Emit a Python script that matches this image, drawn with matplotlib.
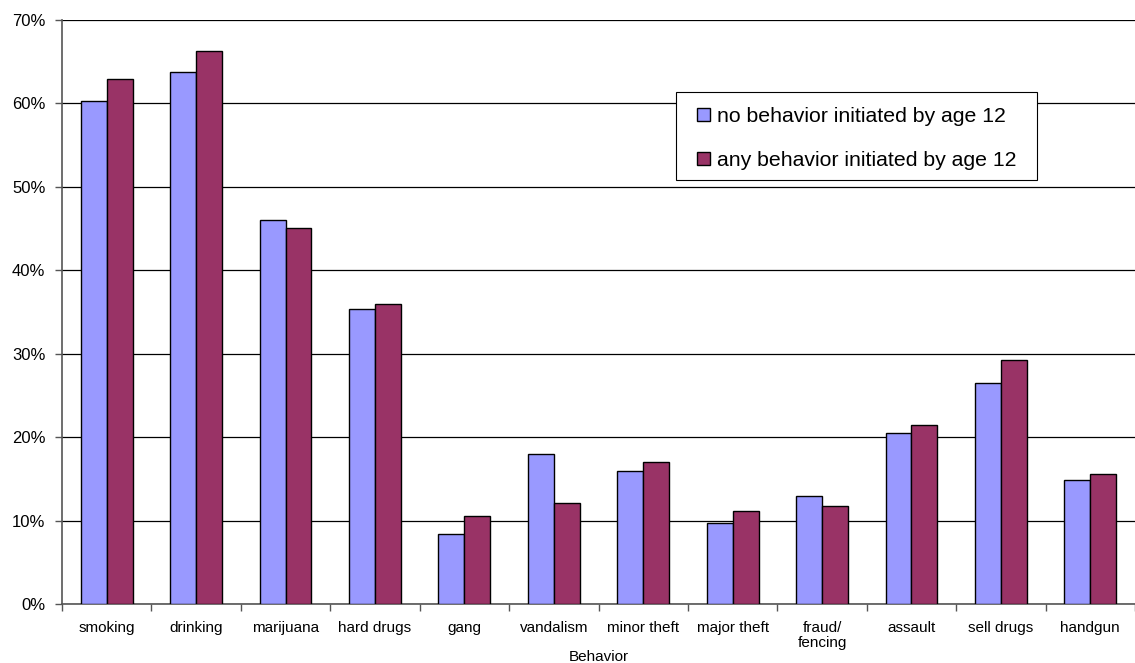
import matplotlib
matplotlib.use("Agg")
import matplotlib.pyplot as plt
import numpy as np
from matplotlib.ticker import FixedLocator, FuncFormatter
from matplotlib.patches import Rectangle

categories = ["smoking", "drinking", "marijuana", "hard drugs", "gang", "vandalism",
              "minor theft", "major theft", "fraud/\nfencing", "assault", "sell drugs", "handgun"]
no_behavior = [60.3, 63.8, 46.0, 35.4, 8.4, 18.0, 15.9, 9.7, 13.0, 20.5, 26.5, 14.9]
any_behavior = [62.9, 66.3, 45.1, 35.9, 10.6, 12.1, 17.0, 11.2, 11.7, 21.5, 29.2, 15.6]
series_labels = ["no behavior initiated by age 12", "any behavior initiated by age 12"]
y_ticks = [0, 10, 20, 30, 40, 50, 60, 70]

plt.rcParams['font.family'] = ['Liberation Sans', 'DejaVu Sans']

fig = plt.figure(figsize=(11.35, 6.63), dpi=100)
W, H = 1135, 663
ax = fig.add_axes([62 / W, (H - 604) / H, (1135 - 62) / W, (604 - 20) / H])

x = np.arange(len(categories))
bw = 0.29
ax.bar(x - bw / 2, no_behavior, bw, color="#9999FF", edgecolor="black", linewidth=1.0,
       label=series_labels[0], zorder=3)
ax.bar(x + bw / 2, any_behavior, bw, color="#993366", edgecolor="black", linewidth=1.0,
       label=series_labels[1], zorder=3)

ax.set_xlim(-0.5, len(categories) - 0.5)
ax.set_ylim(0, 70)
ax.yaxis.set_major_locator(FixedLocator(y_ticks))
ax.yaxis.set_major_formatter(FuncFormatter(lambda v, p: f"{int(v)}%"))
ax.yaxis.grid(True, color="black", linewidth=0.9, zorder=0)
ax.set_axisbelow(True)

ax.set_xticks(x)
ax.set_xticklabels(categories, fontsize=11, linespacing=1.15)
ax.tick_params(axis="x", which="major", length=0, pad=12)
ax.set_xticks(np.arange(-0.5, len(categories), 1.0), minor=True)
ax.tick_params(axis="x", which="minor", length=5, width=1.0, color="#555555", direction="out")
ax.tick_params(axis="y", length=5, width=1.0, color="#555555", direction="out", labelsize=12, pad=7)

for s in ["top", "right"]:
    ax.spines[s].set_visible(False)
for s in ["left", "bottom"]:
    ax.spines[s].set_color("#555555")
    ax.spines[s].set_linewidth(1.2)

ax.set_xlabel("Behavior", fontsize=11)
ax.xaxis.set_label_coords(0.5, (604 - 657) / 584)
ax.xaxis.label.set_va("center")

# legend frame drawn as a rectangle in figure pixel space
frame = Rectangle((676 / W, 1 - 180 / H), (1037 - 676) / W, (180 - 92) / H,
                  transform=fig.transFigure, facecolor="white", edgecolor="black",
                  linewidth=0.8, zorder=4, clip_on=False)
ax.add_patch(frame)

leg = ax.legend(loc="upper left", bbox_to_anchor=(697 / W, 1 - 107 / H), bbox_transform=fig.transFigure,
                borderaxespad=0, borderpad=0, fontsize=15.3, frameon=False,
                handlelength=0.62, handleheight=0.62, handletextpad=0.3,
                labelspacing=1.18)
leg.set_zorder(5)

fig.savefig("out.png", dpi=100)
